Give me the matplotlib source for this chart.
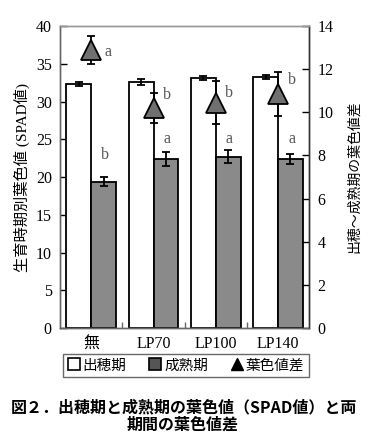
import matplotlib
matplotlib.use("Agg")
import matplotlib.pyplot as plt
from matplotlib.lines import Line2D
import numpy as np

categories = ["無", "LP70", "LP100", "LP140"]
heading_spad = [32.3, 32.6, 33.1, 33.2]
heading_err = [0.3, 0.35, 0.3, 0.25]
maturity_spad = [19.4, 22.4, 22.7, 22.4]
maturity_err = [0.6, 0.9, 0.9, 0.7]
diff_spad = [12.9, 10.2, 10.45, 10.85]
diff_err = [0.65, 0.7, 1.0, 1.0]
maturity_letters = ["b", "a", "a", "a"]
diff_letters = ["a", "b", "b", "b"]

serif = ["Liberation Serif", "Noto Sans CJK JP"]
cjk = ["Noto Sans CJK JP", "DejaVu Sans"]

fig = plt.figure(figsize=(3.76, 4.44), dpi=100)
ax = fig.add_axes([0.16, 0.261, 0.662, 0.6804])
ax2 = ax.twinx()

x = np.arange(len(categories))
w = 0.4
ekw = dict(ecolor="black", elinewidth=1.3, capsize=3.2, capthick=1.3)
ax.bar(x - w / 2, heading_spad, w, color="white", edgecolor="black", linewidth=1.3,
       yerr=heading_err, error_kw=ekw, zorder=2)
ax.bar(x + w / 2, maturity_spad, w, color="#8a8a8a", edgecolor="black", linewidth=1.3,
       yerr=maturity_err, error_kw=ekw, zorder=2)

ax2.errorbar(x, diff_spad, yerr=diff_err, fmt="none", ecolor="black",
             elinewidth=1.3, capsize=3.2, capthick=1.3, zorder=3)
ax2.plot(x, diff_spad, linestyle="none", marker="^", markersize=15,
         markerfacecolor="#707070", markeredgecolor="black", markeredgewidth=1.3, zorder=4)

ax.set_xlim(-0.5, 3.5)
ax.set_ylim(0, 40)
ax2.set_ylim(0, 14)
ax.set_yticks(np.arange(0, 41, 5))
ax2.set_yticks(np.arange(0, 15, 2))

ax.set_xticks([0.5, 1.5, 2.5])
ax.set_xticklabels([])
ax.set_xticks(x, minor=True)
ax.set_xticklabels(categories, minor=True)
ax.tick_params(axis="x", which="major", direction="in", length=4, width=1, color="#666")
ax.tick_params(axis="x", which="minor", length=0, pad=6)
for lab in ax.get_xticklabels(minor=True):
    lab.set_family(serif)
    lab.set_fontsize(11.5)
ax.tick_params(axis="y", direction="in", length=5, width=1, pad=6, labelsize=11.5)
ax2.tick_params(axis="y", direction="in", length=5, width=1, pad=6, labelsize=11.5)
for lab in ax.get_yticklabels() + ax2.get_yticklabels():
    lab.set_family(serif)

for a in (ax, ax2):
    for s in a.spines.values():
        s.set_linewidth(1.0)
    a.spines["top"].set_color("#999999")
    a.spines["left"].set_color("#666666")
    a.spines["bottom"].set_color("#666666")
    a.spines["right"].set_color("#333333")

for i in range(len(categories)):
    ax.text(x[i] + 0.22, [22.9, 25, 25, 25][i], maturity_letters[i], ha="center", va="center",
            fontsize=11.5, color="#555555", family=serif)
    ax2.text(x[i] + 0.22, diff_spad[i] + [-0.1, 0.6, 0.45, 0.65][i], diff_letters[i],
             ha="left" if i == 0 else "center", va="center",
             fontsize=11.5, color="#555555", family=serif)

ax.set_ylabel("生育時期別葉色値 (SPAD値)", family=serif, fontsize=11, labelpad=4)
ax2.set_ylabel("出穂～成熟期の葉色値差", family=cjk, fontsize=10, labelpad=10)

handles = [
    Line2D([], [], linestyle="none", marker="s", markersize=8, markerfacecolor="white",
           markeredgecolor="black", markeredgewidth=1.2),
    Line2D([], [], linestyle="none", marker="s", markersize=8, markerfacecolor="#555555",
           markeredgecolor="black", markeredgewidth=1.2),
    Line2D([], [], linestyle="none", marker="^", markersize=8, markerfacecolor="black",
           markeredgecolor="black"),
]
leg = fig.legend(handles, ["出穂期", "成熟期", "葉色値差"], loc="center",
                 bbox_to_anchor=(0.495, 0.177), ncol=3, frameon=True, fancybox=False,
                 handlelength=0.8, handletextpad=0.2, columnspacing=1.6,
                 borderpad=0.3, prop={"family": cjk, "size": 10.5})
leg.get_frame().set_edgecolor("#444444")
leg.get_frame().set_linewidth(1.0)

fig.text(0.49, 0.083, "図２．出穂期と成熟期の葉色値（SPAD値）と両", ha="center", va="center",
         family=cjk, fontsize=11.5, fontweight="bold")
fig.text(0.485, 0.043, "期間の葉色値差", ha="center", va="center",
         family=cjk, fontsize=11.5, fontweight="bold")

fig.savefig("out.png", dpi=100)
